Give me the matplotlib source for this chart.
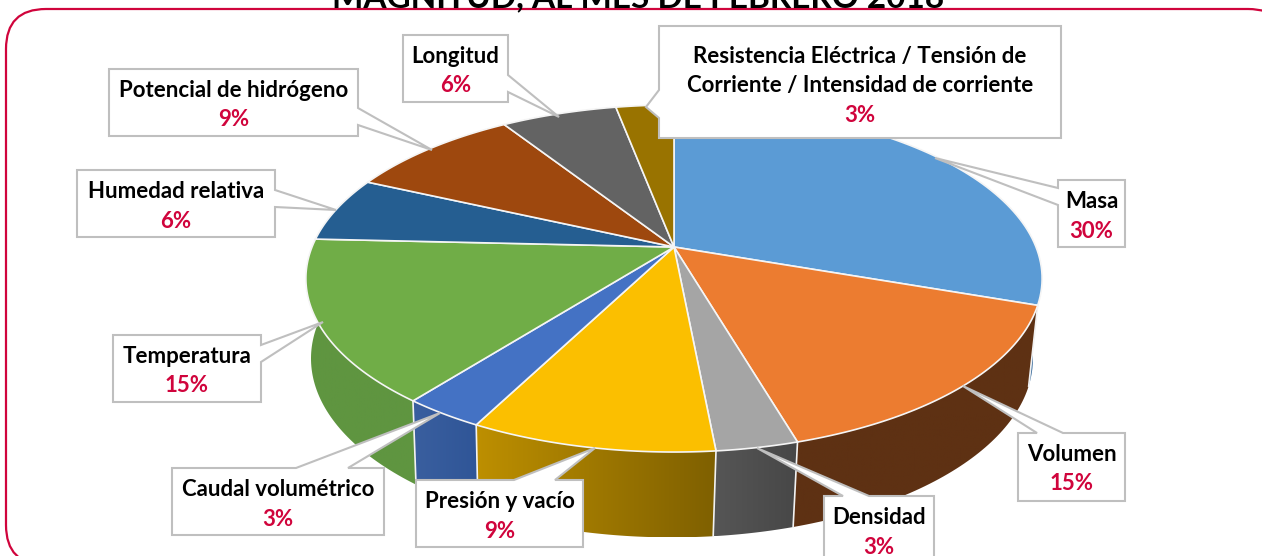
import numpy as np
import matplotlib
matplotlib.use("Agg")
import matplotlib.pyplot as plt
from matplotlib.colors import LinearSegmentedColormap
from matplotlib.patches import FancyBboxPatch, Polygon

plt.rcParams["font.family"] = ["Lato", "DejaVu Sans"]

# clockwise from the top of the pie
categories = [
    "Masa",
    "Volumen",
    "Densidad",
    "Presión y vacío",
    "Caudal volumétrico",
    "Temperatura",
    "Humedad relativa",
    "Potencial de hidrógeno",
    "Longitud",
    "Resistencia Eléctrica / Tensión de\nCorriente / Intensidad de corriente",
]
counts = [10, 5, 1, 3, 1, 5, 2, 3, 2, 1]
title = "MAGNITUD, AL MES DE FEBRERO 2018"

top_colors = ["#5b9bd5", "#ec7c30", "#a5a5a5", "#fbbf00", "#4472c4",
              "#70ad47", "#255e91", "#9e480e", "#636363", "#997300"]
wall_left = ["#3f6f9f", "#5e3113", "#565656", "#bd8f00", "#3a5f9f",
             "#5f9540", "#1a4468", "#6e3209", "#464646", "#6b5000"]
wall_right = ["#3f6f9f", "#5e3113", "#474747", "#7f6000", "#2f5597",
              "#5f9540", "#1a4468", "#6e3209", "#464646", "#6b5000"]

# box x0, y0, x1, y1, pointer side, pointer base a, pointer base b, tip x, tip y
callouts = [
    (1058, 180, 1125, 247, "left", 188, 205, 935, 158),
    (1018, 433, 1125, 501, "top", 1037, 1063, 963, 386),
    (824, 496, 934, 566, "top", 843, 869, 757, 448),
    (416, 480, 583, 547, "top", 514, 555, 595, 448),
    (172, 468, 384, 535, "top", 296, 348, 440, 413),
    (113, 335, 261, 402, "right", 345, 362, 323, 322),
    (77, 170, 275, 237, "right", 190, 207, 336, 210),
    (109, 69, 358, 136, "right", 108, 125, 432, 150),
    (403, 35, 508, 102, "right", 75, 92, 559, 117),
    (659, 26, 1061, 138, "left", 90, 118, 646, 107),
]


def project(angle, cx, cy, r, s, k=0.1816):
    # circle seen in perspective, angle clockwise from the back of the pie
    w = 1 + k * np.cos(angle)
    return cx + r * np.sin(angle) / w, cy - s * np.cos(angle) / w


def top_ring(angle):
    return project(angle, 674, 247, 362, 167.8)


def bottom_ring(angle):
    return project(angle, 672, 326, 355, 173)


def draw_wall(ax, a0, a1, left, right):
    t = np.linspace(a0, a1, 60)
    xt, yt = top_ring(t)
    xb, yb = bottom_ring(t)
    xs = np.r_[xt, xb[::-1]]
    ys = np.r_[yt, yb[::-1]]
    patch = Polygon(np.c_[xs, ys], closed=True, fc="none", ec="none", transform=ax.transData)
    ax.add_patch(patch)
    cmap = LinearSegmentedColormap.from_list("wall", [left, right])
    im = ax.imshow(np.linspace(0, 1, 128).reshape(1, -1), cmap=cmap, aspect="auto",
                   extent=(xs.min(), xs.max(), ys.max(), ys.min()), zorder=2)
    im.set_clip_path(patch)


def draw_callout(ax, box):
    x0, y0, x1, y1, side, a, b, tx, ty = box
    if side == "top":
        pts = [(x0, y0), (a, y0), (tx, ty), (b, y0), (x1, y0), (x1, y1), (x0, y1)]
    elif side == "right":
        pts = [(x0, y0), (x1, y0), (x1, a), (tx, ty), (x1, b), (x1, y1), (x0, y1)]
    else:
        pts = [(x0, y0), (x1, y0), (x1, y1), (x0, y1), (x0, b), (tx, ty), (x0, a)]
    ax.add_patch(Polygon(pts, closed=True, fc="white", ec="#bfbfbf", lw=1.5, zorder=6))


fig = plt.figure(figsize=(12.62, 5.56), dpi=100)
ax = fig.add_axes([0, 0, 1, 1])
ax.set_xlim(0, 1262)
ax.set_ylim(556, 0)
ax.axis("off")

frame = FancyBboxPatch((6, 9), 1282, 556, boxstyle="round,pad=0,rounding_size=40",
                       fc="white", ec="#d0043c", lw=1.6, zorder=1)
ax.add_patch(frame)

ax.text(638, 7, title, ha="center", va="baseline", fontsize=24, fontweight="bold",
        color="black", zorder=7)

total = sum(counts)
edges = np.r_[0, np.cumsum(counts)] / total * 2 * np.pi

# walls, back ones first so that the front ones cover them
order = sorted(range(len(counts)), key=lambda i: np.cos((edges[i] + edges[i + 1]) / 2), reverse=True)
for i in order:
    draw_wall(ax, edges[i], edges[i + 1], wall_left[i], wall_right[i])

# white seams on the front of the wall
for a in edges:
    if np.cos(a) < 0.05:
        xt, yt = top_ring(a)
        xb, yb = bottom_ring(a)
        ax.plot([xt, xb], [yt, yb], color="#f2f2f2", lw=1.2, zorder=3)

# top face
for i in range(len(counts)):
    t = np.linspace(edges[i], edges[i + 1], 80)
    x, y = top_ring(t)
    pts = np.r_[[[674, 247]], np.c_[x, y]]
    ax.add_patch(Polygon(pts, closed=True, fc=top_colors[i], ec="#f5f5f5", lw=1.2,
                         joinstyle="round", zorder=4))

for i, box in enumerate(callouts):
    draw_callout(ax, box)
    x0, y0, x1, y1 = box[:4]
    mid = (x0 + x1) / 2
    pct = f"{round(100 * counts[i] / total)}%"
    lines = categories[i].split("\n")
    first = y0 + 21.5
    if len(lines) == 2:
        first = y0 + 30
    for j, line in enumerate(lines):
        ax.text(mid, first + j * 29.5, line, ha="center", va="center", fontsize=16,
                fontweight="bold", color="black", zorder=7)
    ax.text(mid, first + len(lines) * 29.5, pct, ha="center", va="center", fontsize=16,
            fontweight="bold", color="#d0043c", zorder=7)

fig.savefig("out.png", dpi=100)
